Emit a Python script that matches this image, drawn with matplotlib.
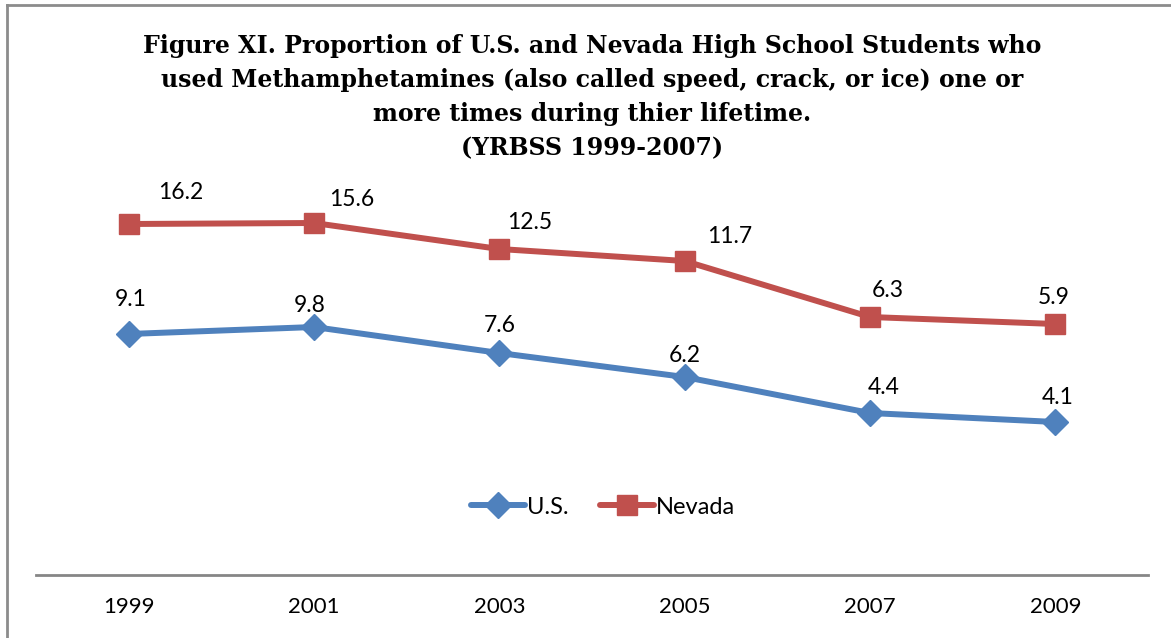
import matplotlib.pyplot as plt
from matplotlib.lines import Line2D

# data
years = ['1999', '2001', '2003', '2005', '2007', '2009']
# where the markers sit on the (hidden) value axis
us_plot = [12.05, 12.4, 11.1, 9.9, 8.1, 7.65]
nevada_plot = [17.55, 17.6, 16.3, 15.7, 12.9, 12.55]
# numbers printed next to the markers
us_labels = ['9.1', '9.8', '7.6', '6.2', '4.4', '4.1']
nevada_labels = ['16.2', '15.6', '12.5', '11.7', '6.3', '5.9']

title = ('Figure XI. Proportion of U.S. and Nevada High School Students who\n'
         'used Methamphetamines (also called speed, crack, or ice) one or\n'
         'more times during thier lifetime.\n'
         '(YRBSS 1999-2007)')

blue = '#4F81BD'
red = '#C0504D'
grey = '#868686'
body_font = 'Lato'

# label offsets in pixels (manual placement like the original)
us_off = [(2, 34), (-4, 21), (0, 27), (0, 22), (14, 25), (2, 24)]
nv_off = [(52, 31), (38, 23), (30, 26), (45, 24), (18, 26), (-2, 26)]

W, H = 1171, 638
fig = plt.figure(figsize=(W / 100, H / 100), dpi=100)
ax = fig.add_axes([36 / W, (H - 575) / H, (1148 - 36) / W, 400 / H])

x = list(range(len(years)))
ax.plot(x, us_plot, color=blue, lw=4.3, marker='D', ms=13, label='U.S.',
        solid_capstyle='round')
ax.plot(x, nevada_plot, color=red, lw=4.3, marker='s', ms=14, label='Nevada',
        solid_capstyle='round')

for i in x:
    ax.annotate(us_labels[i], (i, us_plot[i]), xytext=us_off[i],
                textcoords='offset pixels', ha='center', va='center',
                fontsize=16.5, family=body_font)
    ax.annotate(nevada_labels[i], (i, nevada_plot[i]), xytext=nv_off[i],
                textcoords='offset pixels', ha='center', va='center',
                fontsize=16.5, family=body_font)

ax.set_xlim(-0.5, len(years) - 0.5)
ax.set_ylim(0, 20)
ax.set_xticks(x)
ax.set_xticklabels(years, fontsize=16, family=body_font)
ax.tick_params(axis='x', length=0, pad=16)
ax.set_yticks([])
for s in ['top', 'right', 'left']:
    ax.spines[s].set_visible(False)
ax.spines['bottom'].set_color(grey)
ax.spines['bottom'].set_linewidth(2)

leg = ax.legend(loc='center', bbox_to_anchor=(603 / W, (H - 507) / H),
                bbox_transform=fig.transFigure, ncol=2, frameon=False,
                prop={'family': body_font, 'size': 17}, handlelength=2.3,
                handletextpad=0.1, columnspacing=1.3)

fig.text(592 / W, (H - 34) / H, title, ha='center', va='top',
         fontsize=17, fontweight='bold', family='DejaVu Serif',
         linespacing=1.53)

# outer frame (top and left edges visible)
fig.add_artist(Line2D([7 / W, 1], [(H - 5) / H] * 2, color='#8c8c8c', lw=2))
fig.add_artist(Line2D([7 / W] * 2, [0, (H - 5) / H], color='#8c8c8c', lw=2))

fig.savefig('out.png', dpi=100)
